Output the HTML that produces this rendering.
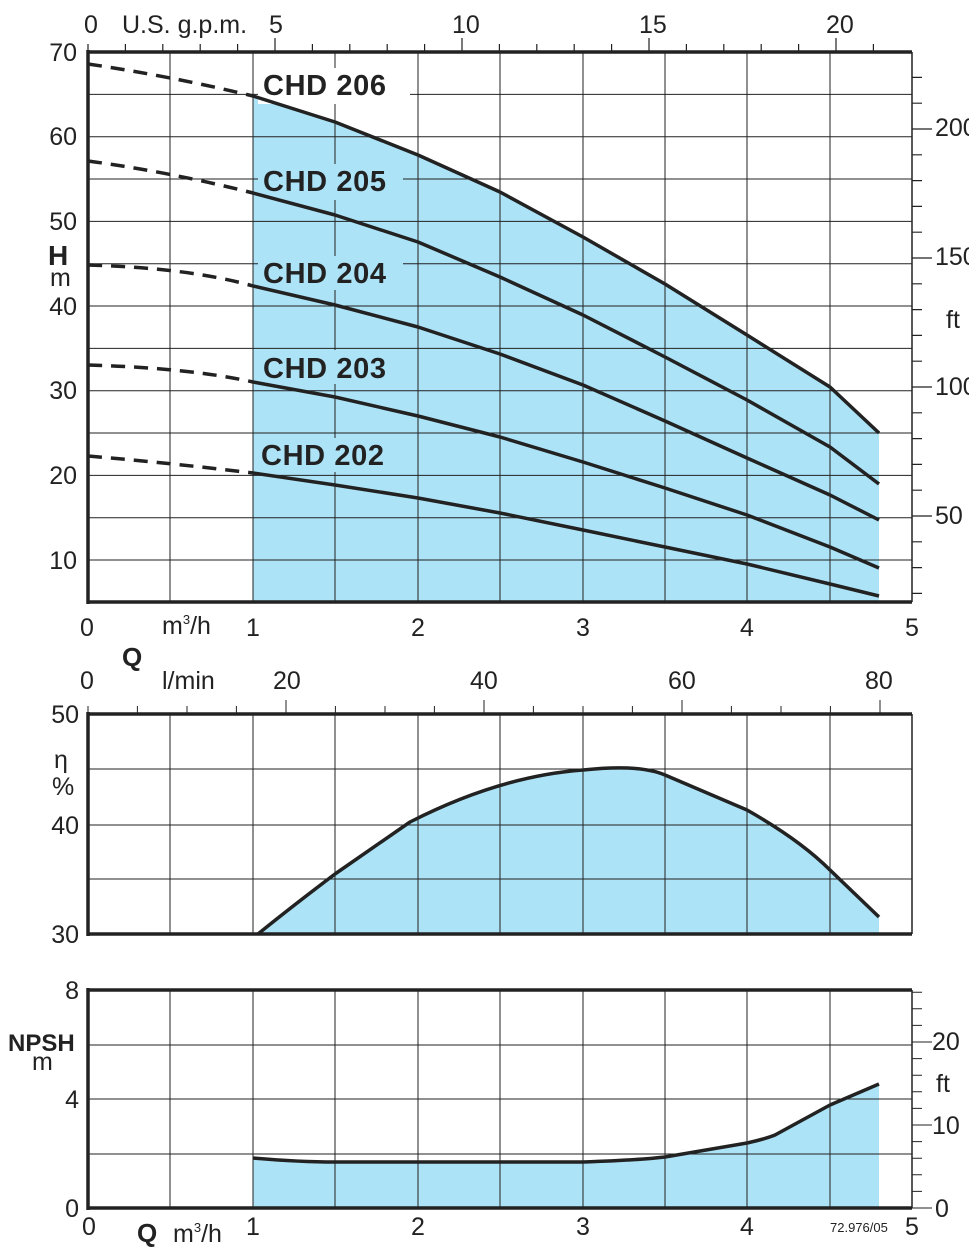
<!DOCTYPE html>
<html><head><meta charset="utf-8"><style>html,body{margin:0;padding:0;background:#fff}svg{display:block}</style></head>
<body>
<svg width="969" height="1252" viewBox="0 0 969 1252" xmlns="http://www.w3.org/2000/svg" font-family="Liberation Sans, sans-serif" fill="#222">
<!-- ===== TOP CHART ===== -->
<path d="M253,96 L335,122 L418,155 L500,192 L583,237 L665,284 L747,335 L830,387 L879,433 L879,602 L253,602 Z" fill="#ade3f7"/>
<g stroke="#222" stroke-width="1">
<path d="M170,52V602M253,52V602M335,52V602M418,52V602M500,52V602M583,52V602M665,52V602M747,52V602M830,52V602"/>
<path d="M88,94.4H912M88,136.7H912M88,179H912M88,221.4H912M88,263.7H912M88,306H912M88,348.4H912M88,390.7H912M88,433H912M88,475.4H912M88,517.7H912M88,560H912"/>
</g>
<rect x="258" y="68" width="152" height="36" fill="#fff"/>
<rect x="258" y="164" width="145" height="36" fill="#ade3f7"/>
<rect x="258" y="256" width="145" height="34" fill="#ade3f7"/>
<rect x="258" y="350" width="145" height="34" fill="#ade3f7"/>
<rect x="256" y="438" width="145" height="34" fill="#ade3f7"/>
<g font-weight="bold" font-size="29" fill="#222">
<text x="263" y="95" textLength="123">CHD 206</text>
<text x="263" y="191" textLength="123">CHD 205</text>
<text x="263" y="283" textLength="123">CHD 204</text>
<text x="263" y="378" textLength="123">CHD 203</text>
<text x="261" y="465" textLength="123">CHD 202</text>
</g>
<g fill="none" stroke="#222" stroke-width="3.5" stroke-linejoin="round">
<path d="M88,64 Q170,76 253,96" stroke-dasharray="14,9"/>
<path d="M88,161 Q170,172 253,193" stroke-dasharray="14,9"/>
<path d="M88,265 Q190,268 253,286" stroke-dasharray="14,9"/>
<path d="M88,365 Q190,368 253,382" stroke-dasharray="14,9"/>
<path d="M88,456 Q170,463 253,473" stroke-dasharray="14,9"/>
<path d="M253,96 L335,122 L418,155 L500,192 L583,237 L665,284 L747,335 L830,387 L879,433"/>
<path d="M253,193 L335,215 L418,242 L500,277 L583,315 L665,357 L747,400 L830,447 L879,484"/>
<path d="M253,286 L335,305 L418,327 L500,354 L583,385 L665,421 L747,458 L830,495 L879,520"/>
<path d="M253,382 L335,397 L418,416 L500,437 L583,462 L665,488 L747,515 L830,547 L879,568"/>
<path d="M253,473 L335,485 L418,498 L500,513 L583,530 L665,547 L747,564 L830,584 L879,596"/>
</g>
<path d="M88,52H912M88,602H912M88,50V604" stroke="#222" stroke-width="3.5" fill="none"/>
<path d="M912,52V602" stroke="#222" stroke-width="1.5"/>
<g stroke="#222" stroke-width="1.2">
<path d="M88,44V52M125.4,44V52M162.8,44V52M200.2,44V52M237.6,44V52M275,38V52M312.4,44V52M349.8,44V52M387.2,44V52M424.6,44V52M462,38V52M499.4,44V52M536.8,44V52M574.2,44V52M611.6,44V52M649,38V52M686.4,44V52M723.8,44V52M761.2,44V52M798.6,44V52M836,38V52M873.4,44V52"/>
<path d="M912,593.4H922M912,567.6H922M912,541.8H922M912,516H932M912,490.2H922M912,464.4H922M912,438.6H922M912,412.8H922M912,387H932M912,361.2H922M912,335.4H922M912,309.6H922M912,283.8H922M912,258H932M912,232.2H922M912,206.4H922M912,180.6H922M912,154.8H922M912,129H932M912,103.2H922M912,77.4H922"/>
</g>
<g font-size="25">
<text x="84" y="33">0</text><text x="122" y="33">U.S. g.p.m.</text>
<text x="269" y="33">5</text><text x="452" y="33">10</text><text x="639" y="33">15</text><text x="826" y="33">20</text>
<g text-anchor="end"><text x="77" y="61">70</text><text x="77" y="145">60</text><text x="77" y="230">50</text><text x="77" y="315">40</text><text x="77" y="399">30</text><text x="77" y="484">20</text><text x="77" y="569">10</text></g>
<text x="48" y="265" font-weight="bold" font-size="28">H</text><text x="50" y="286">m</text>
<text x="935" y="136">200</text><text x="935" y="265">150</text><text x="935" y="395">100</text><text x="935" y="524">50</text>
<text x="946" y="328">ft</text>
<text x="80" y="636">0</text><text x="162" y="634">m<tspan font-size="13" dy="-10">3</tspan><tspan dy="10">/h</tspan></text>
<text x="246" y="636">1</text><text x="411" y="636">2</text><text x="576" y="636">3</text><text x="740" y="636">4</text><text x="905" y="636">5</text>
<text x="122" y="666" font-weight="bold" font-size="26">Q</text>
<text x="80" y="689">0</text><text x="162" y="689">l/min</text>
<text x="273" y="689">20</text><text x="470" y="689">40</text><text x="668" y="689">60</text><text x="865" y="689">80</text>
</g>
<!-- ===== MIDDLE CHART ===== -->
<path d="M258,934 Q290,908 335,874 L410,822 Q500,776 583,770 Q640,764 665,775 L747,810 Q800,840 830,870 L879,917 L879,934 Z" fill="#ade3f7"/>
<g stroke="#222" stroke-width="1">
<path d="M170,714V934M253,714V934M335,714V934M418,714V934M500,714V934M583,714V934M665,714V934M747,714V934M830,714V934"/>
<path d="M88,769H912M88,825H912M88,879H912"/>
<path d="M88,706V714M137.4,706V714M187,706V714M236.4,706V714M286,700V714M335.4,706V714M385,706V714M434.4,706V714M484,700V714M533.4,706V714M583,706V714M632.4,706V714M682,700V714M731.4,706V714M781,706V714M830.4,706V714M880,700V714"/>
</g>
<path d="M258,934 Q290,908 335,874 L410,822 Q500,776 583,770 Q640,764 665,775 L747,810 Q800,840 830,870 L879,917" fill="none" stroke="#222" stroke-width="3.5" stroke-linejoin="round"/>
<path d="M88,714H912M88,934H912M88,712V936" stroke="#222" stroke-width="3.5" fill="none"/>
<path d="M912,714V934" stroke="#222" stroke-width="1.5"/>
<g font-size="25">
<text x="79" y="723" text-anchor="end">50</text><text x="79" y="834" text-anchor="end">40</text><text x="79" y="943" text-anchor="end">30</text>
<text x="54" y="768">η</text><text x="52" y="795">%</text>
</g>
<!-- ===== BOTTOM CHART ===== -->
<path d="M253,1158 Q300,1162 335,1162 L500,1162 L583,1162 Q640,1160 665,1157 L747,1143 Q765,1139 775,1135 L830,1105 L879,1084 L879,1208 L253,1208 Z" fill="#ade3f7"/>
<g stroke="#222" stroke-width="1">
<path d="M170,990V1208M253,990V1208M335,990V1208M418,990V1208M500,990V1208M583,990V1208M665,990V1208M747,990V1208M830,990V1208"/>
<path d="M88,1045H912M88,1099H912M88,1154H912"/>
<path d="M912,1191.4H922M912,1174.8H922M912,1158.2H922M912,1141.6H922M912,1125H932M912,1108.4H922M912,1091.8H922M912,1075.2H922M912,1058.6H922M912,1042H932M912,1025.4H922M912,1008.8H922M912,992.2H922M912,1208H932"/>
</g>
<path d="M253,1158 Q300,1162 335,1162 L500,1162 L583,1162 Q640,1160 665,1157 L747,1143 Q765,1139 775,1135 L830,1105 L879,1084" fill="none" stroke="#222" stroke-width="3.5" stroke-linejoin="round"/>
<path d="M88,990H912M88,1208H912M88,988V1210" stroke="#222" stroke-width="3.5" fill="none"/>
<path d="M912,990V1208" stroke="#222" stroke-width="1.5"/>
<g font-size="25">
<text x="79" y="999" text-anchor="end">8</text><text x="79" y="1108" text-anchor="end">4</text><text x="79" y="1217" text-anchor="end">0</text>
<text x="8" y="1051" font-weight="bold" font-size="24">NPSH</text><text x="32" y="1070">m</text>
<text x="932" y="1050">20</text><text x="936" y="1092">ft</text><text x="932" y="1134">10</text><text x="935" y="1217">0</text>
<text x="82" y="1235">0</text><text x="137" y="1242" font-weight="bold" font-size="26">Q</text>
<text x="173" y="1242">m<tspan font-size="13" dy="-10">3</tspan><tspan dy="10">/h</tspan></text>
<text x="246" y="1235">1</text><text x="411" y="1235">2</text><text x="576" y="1235">3</text><text x="740" y="1235">4</text><text x="905" y="1235">5</text>
<text x="830" y="1232" font-size="13">72.976/05</text>
</g>
</svg>
</body></html>
